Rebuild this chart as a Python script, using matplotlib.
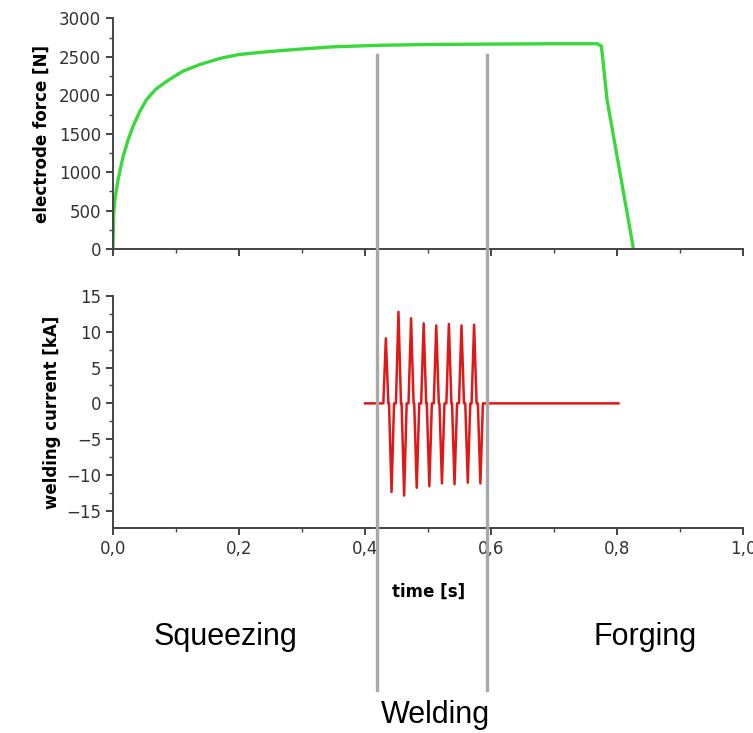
import matplotlib.pyplot as plt
import numpy as np

# electrode force curve (time [s], force [N])
t_force = [0, 0.001, 0.003, 0.008, 0.016, 0.024, 0.032, 0.042, 0.053, 0.068, 0.085,
           0.11, 0.138, 0.17, 0.2, 0.25, 0.297, 0.35, 0.424, 0.5, 0.6, 0.7, 0.768,
           0.775, 0.784, 0.826]
force = [0, 450, 640, 900, 1200, 1420, 1600, 1780, 1940, 2080, 2180,
         2310, 2400, 2480, 2530, 2570, 2600, 2630, 2650, 2660, 2665, 2670, 2670,
         2640, 1940, 0]

# welding current peaks (time [s], current [kA])
pos_t = [0.433, 0.453, 0.473, 0.493, 0.513, 0.533, 0.553, 0.573]
pos_v = [9.1, 12.8, 11.9, 11.2, 10.9, 11.1, 10.9, 11.0]
neg_t = [0.442, 0.462, 0.482, 0.502, 0.522, 0.542, 0.563, 0.583]
neg_v = [-12.4, -12.9, -11.8, -11.6, -11.2, -11.3, -11.1, -11.2]
current_start, current_end = 0.400, 0.802

phase_bounds = [0.419, 0.594]
phase_names = ['Squeezing', 'Welding', 'Forging']

# build current trace: zero baseline with a narrow pulse at every peak
pk_t = np.array(pos_t + neg_t)
pk_v = np.array(pos_v + neg_v)
order = np.argsort(pk_t)
pk_t, pk_v = pk_t[order], pk_v[order]
hw = 0.004
ct = [current_start]
cv = [0]
for t, v in zip(pk_t, pk_v):
    ct += [t - hw, t, t + hw]
    cv += [0, v, 0]
ct.append(current_end)
cv.append(0)

fig = plt.figure(figsize=(7.53, 7.33), dpi=100)
ax1 = fig.add_axes([0.150, 0.660, 0.837, 0.315])
ax2 = fig.add_axes([0.150, 0.280, 0.837, 0.316])

axcol = '#444444'
for ax in (ax1, ax2):
    for s in ('top', 'right'):
        ax.spines[s].set_visible(False)
    for s in ('left', 'bottom'):
        ax.spines[s].set_color(axcol)
        ax.spines[s].set_linewidth(1.4)
    ax.set_xlim(0, 1.0)
    ax.set_xticks([0, 0.2, 0.4, 0.6, 0.8, 1.0])
    ax.set_xticks([0.1, 0.3, 0.5, 0.7, 0.9], minor=True)
    ax.tick_params(which='major', direction='out', length=5, width=1.4, color=axcol,
                   labelsize=12, labelcolor='#333333')
    ax.tick_params(which='minor', direction='out', length=3, width=1.0, color=axcol)

ax1.plot(t_force, force, color='#3ad83a', lw=2.4, solid_joinstyle='round')
ax1.set_ylim(0, 3000)
ax1.set_yticks(range(0, 3001, 500))
ax1.set_yticks(range(250, 3000, 500), minor=True)
ax1.tick_params(axis='x', labelbottom=False)
ax1.set_ylabel('electrode force [N]', fontsize=12, fontweight='bold', labelpad=6)

ax2.plot(ct, cv, color='#e01818', lw=1.8, solid_joinstyle='round')
ax2.set_ylim(-17.4, 15)
ax2.set_yticks(range(-15, 16, 5))
ax2.set_yticks(np.arange(-17.5, 15, 2.5)[1:], minor=True)
ax2.set_xticklabels(['0,0', '0,2', '0,4', '0,6', '0,8', '1,0'])
ax2.set_ylabel('welding current [kA]', fontsize=12, fontweight='bold', labelpad=4)
ax2.set_xlabel('time [s]', fontsize=12, fontweight='bold', labelpad=18)

# phase boundaries spanning both panels
for xb in phase_bounds:
    ax2.axvline(xb, ymin=-0.70, ymax=2.04, color='#a8a8a8', lw=2.4, clip_on=False, zorder=5)

fig.text(0.300, 0.131, phase_names[0], fontsize=22, family='Liberation Sans',
         ha='center', va='center')
fig.text(0.578, 0.024, phase_names[1], fontsize=22, family='Liberation Sans',
         ha='center', va='center')
fig.text(0.857, 0.131, phase_names[2], fontsize=22, family='Liberation Sans',
         ha='center', va='center')

fig.savefig('out.png', dpi=100, facecolor='white')
